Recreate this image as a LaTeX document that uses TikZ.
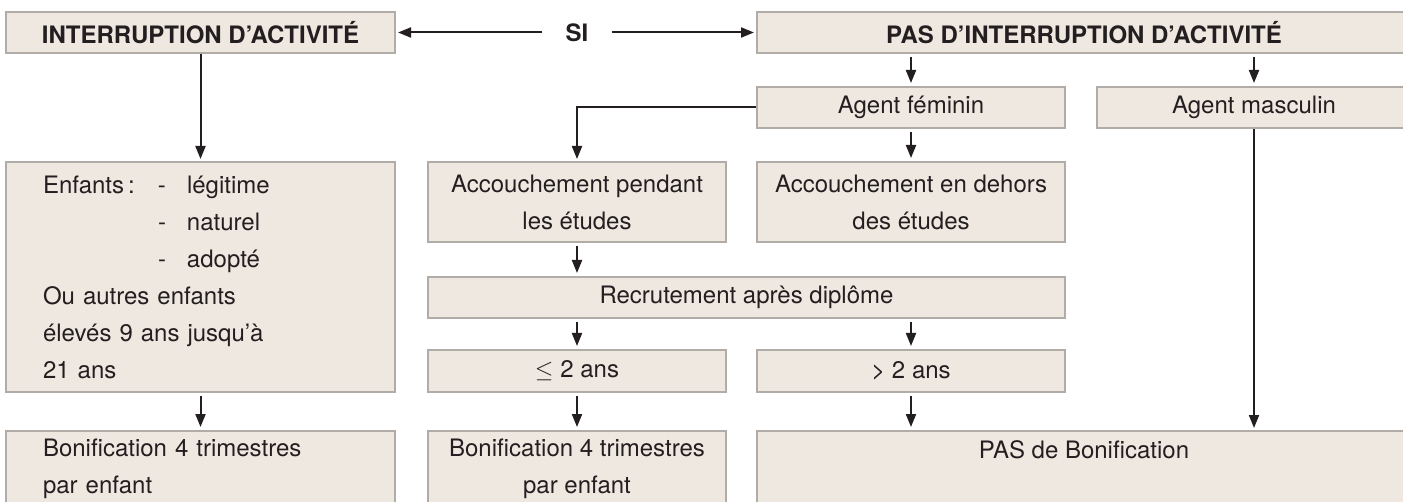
\documentclass[tikz,border=0pt]{standalone}
\usepackage{fontspec}
\setmainfont{TeX Gyre Heros}
\usetikzlibrary{arrows.meta}
\definecolor{cfill}{RGB}{239,232,225}
\definecolor{cedge}{RGB}{178,172,168}
\definecolor{cink}{RGB}{35,31,32}
\tikzset{pix/.style={x=0.5pt,y=-0.5pt,font=\fontsize{12}{18.5}\selectfont,text=cink}}
\tikzset{cell/.style={draw=cedge,fill=cfill,line width=1pt,inner sep=0pt,align=center},
         hcell/.style={cell,font=\fontsize{12}{18.5}\selectfont\bfseries},
         link/.style={cink,line width=1pt,-{Triangle[length=6.5pt,width=5pt]},shorten >=1pt},
         gap/.style={link,shorten <=1.5pt,shorten >=1.5pt}}

\begin{document}
\begin{tikzpicture}[pix]
    \useasboundingbox (0,0) rectangle (1403,502);
    % first row
    \node[hcell,minimum width=194.5pt,minimum height=20.5pt] (inter) at (200.5,32.5) {INTERRUPTION D’ACTIVITÉ};
    \node[font=\fontsize{12}{18.5}\selectfont\bfseries,inner xsep=11.5pt] (si) at (577,32.5) {SI};
    \node[hcell,minimum width=327pt,minimum height=20.5pt] (pasinter) at (1084,32.5) {PAS D’INTERRUPTION D’ACTIVITÉ};
    % agents
    \node[cell,minimum width=154pt,minimum height=20.5pt] (fem) at (911,107.5) {Agent féminin};
    \node[cell,minimum width=157pt,minimum height=20.5pt] (masc) at (1254,107.5) {Agent masculin};
    % children / births
    \node[cell,align=left,text width=157.5pt,inner xsep=18.5pt,minimum height=115pt] (enf) at (200.5,277) {%
        \makebox[57.5pt][l]{Enfants\,:}\makebox[14.5pt][l]{-}légitime\\
        \hspace*{57.5pt}\makebox[14.5pt][l]{-}naturel\\
        \hspace*{57.5pt}\makebox[14.5pt][l]{-}adopté\\
        Ou autres enfants\\
        élevés 9 ans jusqu’à\\
        21 ans};
    \node[cell,minimum width=149pt,minimum height=40pt] (pend) at (577,202) {Accouchement pendant\\les études};
    \node[cell,minimum width=154pt,minimum height=40pt] (dehors) at (911,202) {Accouchement en dehors\\des études};
    \node[cell,minimum width=318.5pt,minimum height=20.5pt] (recr) at (746.5,297.5) {Recrutement après diplôme};
    \node[cell,minimum width=149pt,minimum height=21pt] (le2) at (577,371) {$\leq$ 2 ans};
    \node[cell,minimum width=154pt,minimum height=21pt] (gt2) at (911,371) {> 2 ans};
    % results
    \node[cell,align=left,text width=157.5pt,inner xsep=18.5pt,minimum height=37.5pt] (bon1) at (200.5,468.5) {Bonification 4 trimestres\\par enfant};
    \node[cell,minimum width=149pt,minimum height=37.5pt] (bon2) at (577,468.5) {Bonification 4 trimestres\\par enfant};
    \node[cell,minimum width=327pt,minimum height=37.5pt] (pasbon) at (1084,468.5) {PAS de Bonification\\\mbox{}};
    % connectors
    \draw[link] (si.west) -- (inter.east);
    \draw[link] (si.east) -- (pasinter.west);
    \draw[link] (inter.south) -- (enf.north);
    \draw[gap] (pasinter.south -| fem.north) -- (fem.north);
    \draw[gap] (pasinter.south -| masc.north) -- (masc.north);
    \draw[link] (fem.west) -| (pend.north);
    \draw[gap] (fem.south) -- (dehors.north);
    \draw[gap] (pend.south) -- (pend.south |- recr.north);
    \draw[gap] (recr.south -| le2.north) -- (le2.north);
    \draw[gap] (recr.south -| gt2.north) -- (gt2.north);
    \draw[gap] (enf.south) -- (bon1.north);
    \draw[gap] (le2.south) -- (bon2.north);
    \draw[gap] (gt2.south) -- (gt2.south |- pasbon.north);
    \draw[link] (masc.south) -- (masc.south |- pasbon.north);
\end{tikzpicture}
\end{document}
